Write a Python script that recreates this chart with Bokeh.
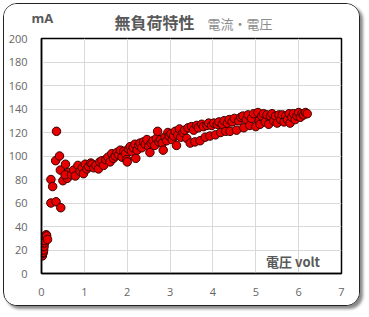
from bokeh.plotting import figure
from bokeh.models import Label, Range1d, FixedTicker, Div
from bokeh.layouts import column
from bokeh.embed import file_html
from bokeh.resources import INLINE

# Data: voltage (volt) vs current (mA)
volt = [0.02, 0.03, 0.04, 0.05, 0.06, 0.07, 0.08, 0.10, 0.11, 0.12, 0.14,
        0.22, 0.34, 0.45,
        0.22, 0.26, 0.35, 0.33, 0.42, 0.44, 0.56, 0.50, 0.60, 0.63, 0.55, 0.70, 0.75, 0.79, 0.85, 0.90, 0.95, 0.98,
        1.02, 1.06, 1.10, 1.15, 1.18, 1.22, 1.27, 1.33, 1.36, 1.41, 1.45, 1.50, 1.55, 1.60, 1.64, 1.68, 1.72, 1.76,
        1.80, 1.84, 1.88, 1.92, 1.96, 1.99,
        2.00, 2.03, 2.07, 2.10, 2.14, 2.18, 2.20, 2.23, 2.27, 2.30, 2.34, 2.38, 2.42, 2.46, 2.50, 2.53, 2.56, 2.60,
        2.64, 2.68, 2.71, 2.74, 2.78, 2.82, 2.84, 2.88, 2.92, 2.95, 2.98,
        3.02, 3.05, 3.08, 3.12, 3.15, 3.18, 3.22, 3.25, 3.30, 3.34, 3.39, 3.42, 3.47, 3.50, 3.55, 3.58, 3.62, 3.66,
        3.70, 3.74, 3.78, 3.82, 3.86, 3.90, 3.93, 3.97,
        4.02, 4.06, 4.10, 4.14, 4.18, 4.22, 4.26, 4.30, 4.34, 4.38, 4.40, 4.45, 4.50, 4.55, 4.60, 4.65, 4.70, 4.72,
        4.78, 4.82, 4.86, 4.90, 4.95, 5.00, 5.05, 5.08,
        5.10, 5.14, 5.18, 5.22, 5.26, 5.30, 5.34, 5.38, 5.42, 5.46, 5.50, 5.54, 5.58, 5.62, 5.66, 5.70, 5.74, 5.78,
        5.80, 5.84, 5.88, 5.92, 5.96, 6.00, 6.04, 6.08, 6.12, 6.16, 6.20]
current = [15, 17, 18, 20, 23, 26, 28, 31, 33, 32, 29,
           60, 61, 56,
           80, 74, 121, 96, 100, 88, 93, 79, 81, 86, 84, 84, 88, 83, 92, 87, 90, 85,
           93, 89, 91, 94, 93, 90, 92, 89, 95, 96, 92, 97, 99, 95, 102, 98, 100, 103,
           101, 105, 99, 104, 102, 97,
           95, 106, 108, 104, 107, 110, 98, 105, 109, 111, 107, 112, 110, 114, 108, 103, 111, 113,
           109, 115, 121, 112, 114, 111, 105, 116, 113, 120, 117,
           119, 114, 117, 121, 109, 118, 123, 116, 120, 122, 115, 124, 111, 125, 122, 112, 126, 124,
           113, 127, 125, 116, 126, 128, 117, 126,
           128, 118, 127, 129, 120, 127, 130, 121, 128, 131, 121, 129, 132, 122, 130, 133, 134, 124,
           131, 135, 126, 132, 136, 125, 137, 130,
           127, 134, 136, 129, 135, 127, 134, 136, 130, 134, 128, 135, 131, 135, 129, 134, 131, 136,
           128, 133, 136, 131, 134, 137, 133, 136, 135, 137, 136]

x_ticks = [0, 1, 2, 3, 4, 5, 6, 7]
y_ticks = [0, 20, 40, 60, 80, 100, 120, 140, 160, 180, 200]

title_text = "無負荷特性"
subtitle_text = "電流・電圧"
y_unit_text = "mA"
x_unit_text = "電圧 volt"

W = 355
HEAD_H = 28
LEFT, RIGHT = 37, 18

span = "position:absolute;white-space:nowrap;line-height:1;"
head = Div(width=W, height=HEAD_H, text=(
    f'<div style="position:relative;width:{W}px;height:{HEAD_H}px;">'
    f'<span style="{span}left:27.5px;top:8.3px;font-family:\'Open Sans\';font-weight:bold;'
    f'font-size:13px;color:#595959;">{y_unit_text}</span>'
    f'<span style="{span}left:110.5px;top:9.7px;font-family:\'Noto Sans CJK JP\';font-weight:bold;'
    f'font-size:16px;color:#595959;">{title_text}</span>'
    f'<span style="{span}left:203.5px;top:12.8px;font-family:\'Noto Sans CJK JP\';'
    f'font-size:13px;color:#8c8c8c;">{subtitle_text}</span>'
    '</div>'))
head.styles = {"margin": "0", "padding": "0", "background": "white"}

p = figure(width=W, height=6 + 235 + 32, output_backend="svg", toolbar_location=None,
           x_range=Range1d(0, 7), y_range=Range1d(0, 200),
           min_border_left=LEFT, min_border_right=RIGHT, min_border_top=6, min_border_bottom=32)

p.background_fill_color = "white"
p.border_fill_color = "white"
p.outline_line_color = "black"
p.outline_line_width = 1.5

for ax in (p.xaxis[0], p.yaxis[0]):
    ax.axis_line_color = "black"
    ax.axis_line_width = 1.5
    ax.major_tick_line_color = None
    ax.minor_tick_line_color = None
    ax.major_label_text_color = "#666666"
    ax.major_label_text_font = "Open Sans"
    ax.major_label_text_font_size = "11px"
p.xaxis.ticker = FixedTicker(ticks=x_ticks)
p.yaxis.ticker = FixedTicker(ticks=y_ticks)
p.xaxis.major_label_standoff = 8
p.yaxis.major_label_standoff = 8

p.xgrid.ticker = FixedTicker(ticks=x_ticks)
p.ygrid.ticker = FixedTicker(ticks=y_ticks)
p.grid.grid_line_color = "#d9d9d9"
p.grid.grid_line_width = 1

p.scatter(volt, current, size=8.5, fill_color="#e80000", line_color="#3a0000", line_width=1)

p.add_layout(Label(x=5.87, y=9.8, text=x_unit_text, text_align="center", text_baseline="middle",
                   text_font="Noto Sans CJK JP", text_font_style="bold", text_font_size="13px",
                   text_color="#595959"))

layout = column(head, p, spacing=0)
layout.styles = {"margin": "3px 0 0 3px", "border": "1.5px solid #222",
                 "border-radius": "14px", "box-shadow": "3px 3px 3px #8a8a8a",
                 "overflow": "hidden", "background": "white"}

open("out.html", "w").write(file_html(layout, INLINE))
